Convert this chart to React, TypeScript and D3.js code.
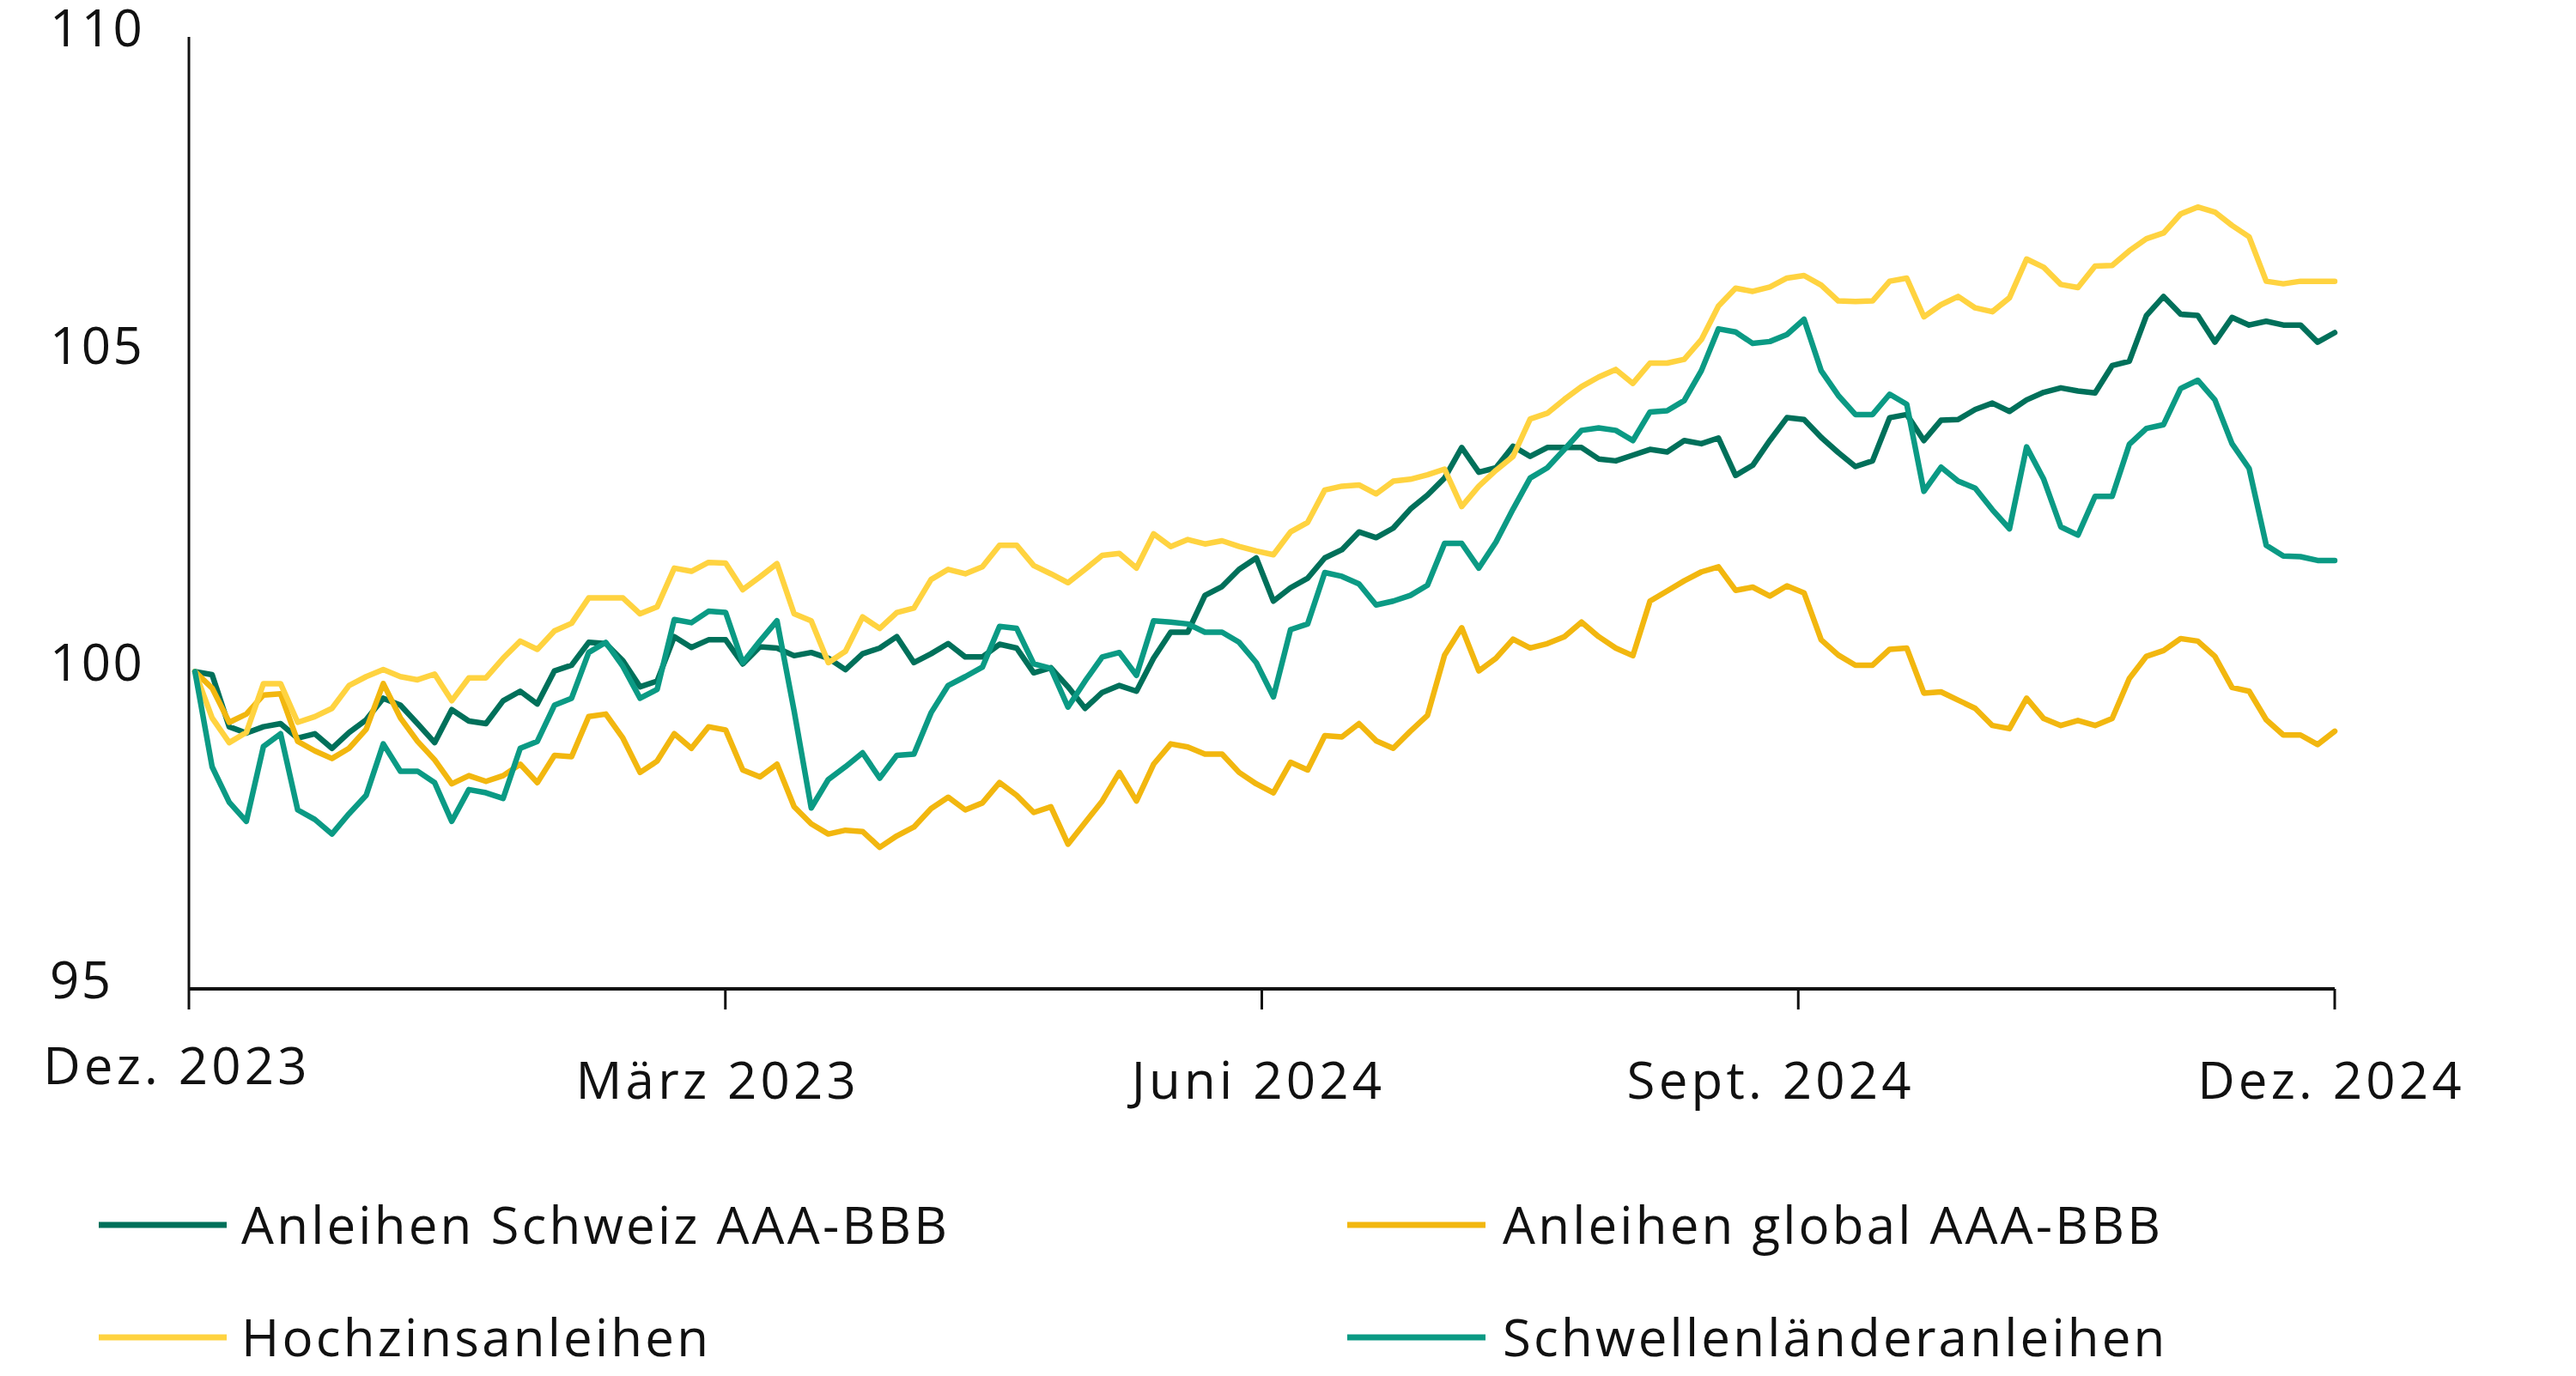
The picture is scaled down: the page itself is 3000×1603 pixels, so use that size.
import React from 'react';
import * as d3 from 'd3';

// ---------- data ----------
const seriesNames = [
  'Anleihen Schweiz AAA-BBB',
  'Anleihen global AAA-BBB',
  'Hochzinsanleihen',
  'Schwellenländeranleihen',
];
const seriesColors = ['#00705a', '#f2b70f', '#ffd340', '#0b9a84'];

const schweiz = [
  100.0, 99.95, 99.13, 99.03, 99.13, 99.18, 98.95, 99.02, 98.79, 99.04, 99.24, 99.58, 99.47, 99.18, 98.88, 99.4, 99.22, 99.18, 99.54, 99.69, 99.49, 100.01, 100.1, 100.46, 100.44, 100.17, 99.76, 99.85, 100.55,
  100.38, 100.5, 100.5, 100.12, 100.39, 100.37, 100.25, 100.3, 100.21, 100.03, 100.28, 100.37, 100.55, 100.14, 100.28, 100.44, 100.23, 100.23, 100.43, 100.37, 99.98, 100.06, 99.76, 99.42, 99.67, 99.78, 99.69, 100.21,
  100.62, 100.62, 101.2, 101.34, 101.61, 101.79, 101.11, 101.32, 101.47, 101.79, 101.92,
  102.2, 102.11, 102.26, 102.56, 102.78, 103.05, 103.53, 103.14, 103.21, 103.55, 103.39,
  103.53, 103.53, 103.53, 103.35, 103.32, 103.41, 103.5, 103.46, 103.64, 103.59, 103.68,
  103.09, 103.25, 103.64, 104.0, 103.97, 103.69, 103.45, 103.23, 103.32, 104.0, 104.05,
  103.64, 103.96, 103.97, 104.13, 104.23, 104.1, 104.28, 104.4, 104.47, 104.42, 104.39, 104.82,
  104.89, 105.61, 105.91, 105.63, 105.61, 105.19, 105.58, 105.46, 105.52, 105.46, 105.46, 105.19, 105.34,
];

const globalBonds = [
  100.0, 99.74, 99.2, 99.33, 99.63, 99.65, 98.9, 98.75, 98.63, 98.79, 99.09, 99.81, 99.27, 98.9, 98.61, 98.23, 98.36, 98.27, 98.36, 98.54, 98.25, 98.68, 98.66, 99.29, 99.33, 98.95, 98.41, 98.59, 99.02,
  98.79, 99.13, 99.08, 98.45, 98.34, 98.54, 97.87, 97.6, 97.44, 97.5, 97.48, 97.23, 97.41, 97.55, 97.84, 98.02, 97.82, 97.93, 98.25, 98.05, 97.78, 97.87, 97.28, 97.62, 97.96, 98.41, 97.96, 98.54,
  98.86, 98.81, 98.7, 98.7, 98.41, 98.23, 98.09, 98.57, 98.45, 98.99, 98.97,
  99.18, 98.91, 98.79, 99.06, 99.31, 100.26, 100.69, 100.01, 100.21, 100.51, 100.37,
  100.44, 100.55, 100.78, 100.55, 100.37, 100.25, 101.11, 101.27, 101.43, 101.57, 101.65,
  101.28, 101.33, 101.19, 101.35, 101.24, 100.5, 100.26, 100.1, 100.1, 100.35, 100.37,
  99.66, 99.68, 99.55, 99.42, 99.15, 99.1, 99.58, 99.26, 99.15, 99.23, 99.15, 99.26,
  99.89, 100.24, 100.33, 100.52, 100.48, 100.24, 99.75, 99.69, 99.24, 99.0, 99.0, 98.85, 99.06,
];

const hochzins = [
  100.0, 99.27, 98.88, 99.04, 99.81, 99.81, 99.2, 99.29, 99.42, 99.78, 99.92, 100.03, 99.92, 99.87, 99.96, 99.54, 99.9, 99.9, 100.21, 100.48, 100.35, 100.64, 100.76, 101.16, 101.16, 101.16, 100.91, 101.02, 101.63,
  101.58, 101.72, 101.71, 101.29, 101.49, 101.7, 100.91, 100.8, 100.14, 100.32, 100.86, 100.68, 100.93, 101.0, 101.45, 101.61, 101.54, 101.65, 101.99, 101.99, 101.67, 101.54, 101.4, 101.61, 101.83, 101.86, 101.63, 102.17,
  101.97, 102.08, 102.01, 102.06, 101.97, 101.9, 101.84, 102.2, 102.35, 102.86, 102.92,
  102.94, 102.8, 103.0, 103.03, 103.1, 103.19, 102.6, 102.92, 103.17, 103.39, 103.98,
  104.07, 104.29, 104.49, 104.64, 104.76, 104.54, 104.86, 104.86, 104.92, 105.23, 105.76,
  106.04, 105.99, 106.06, 106.2, 106.24, 106.09, 105.84, 105.83, 105.84, 106.15, 106.2,
  105.59, 105.78, 105.91, 105.73, 105.67, 105.89, 106.5, 106.37, 106.1, 106.05, 106.39, 106.4,
  106.63, 106.82, 106.91, 107.21, 107.32, 107.24, 107.03, 106.85, 106.15, 106.11, 106.15, 106.15, 106.15,
];

const schwellen = [
  100.0, 98.5, 97.94, 97.64, 98.82, 99.02, 97.82, 97.67, 97.44, 97.76, 98.05, 98.86, 98.43, 98.43, 98.25, 97.64, 98.14, 98.09, 98.0, 98.79, 98.9, 99.47, 99.58, 100.3, 100.46, 100.08, 99.58, 99.72, 100.82,
  100.77, 100.95, 100.93, 100.14, 100.48, 100.8, 99.38, 97.85, 98.3, 98.5, 98.72, 98.32, 98.68, 98.7, 99.35, 99.78, 99.92, 100.07, 100.71, 100.68, 100.12, 100.05, 99.44, 99.85, 100.23, 100.3, 99.94, 100.8,
  100.78, 100.75, 100.62, 100.62, 100.46, 100.14, 99.6, 100.66, 100.75, 101.56, 101.5,
  101.38, 101.05, 101.11, 101.2, 101.36, 102.02, 102.02, 101.63, 102.04, 102.56, 103.05,
  103.21, 103.5, 103.8, 103.84, 103.8, 103.64, 104.09, 104.11, 104.27, 104.74, 105.4,
  105.35, 105.17, 105.2, 105.31, 105.55, 104.74, 104.35, 104.05, 104.05, 104.37, 104.21,
  102.84, 103.22, 103.0, 102.89, 102.55, 102.25, 103.54, 103.03, 102.28, 102.15, 102.76, 102.76,
  103.58, 103.83, 103.89, 104.46, 104.59, 104.28, 103.59, 103.2, 101.99, 101.82, 101.81, 101.75, 101.75,
];

const seriesValues = [schweiz, globalBonds, hochzins, schwellen];

const yTicks = [95, 100, 105, 110];
const xTickMonths = [0, 3, 6, 9, 12];
const xTickLabels = ['Dez. 2023', 'März 2023', 'Juni 2024', 'Sept. 2024', 'Dez. 2024'];
const dataStartMonth = 0.034; // first observation (months after Dec. 2023)
const dataEndMonth = 12;

// ---------- layout ----------
const W = 3000;
const H = 1603;
const FONT = "'Open Sans', 'Noto Sans', sans-serif";
const FS = 60;
const xTickLabelDx = [-14, -9, -4, -32, -4];
const xTickLabelBaseline = [1263, 1280, 1280, 1280, 1280];
const legendPos = [
  { x1: 115, x2: 264, tx: 281, y: 1427 },
  { x1: 1569, x2: 1730, tx: 1750, y: 1427 },
  { x1: 115, x2: 264, tx: 281, y: 1558 },
  { x1: 1569, x2: 1730, tx: 1750, y: 1558 },
];

export default function App() {
  const x = d3.scaleLinear().domain([0, 12]).range([220, 2719]);
  const y = d3.scaleLinear().domain([95, 110]).range([1152, 43]);

  const makeLine = (vals: number[]) => {
    const n = vals.length;
    const t = (i: number) => dataStartMonth + (i * (dataEndMonth - dataStartMonth)) / (n - 1);
    return d3
      .line<number>()
      .x((_, i) => x(t(i)))
      .y((d) => y(d))(vals) as string;
  };

  return (
    <svg
      width={W}
      height={H}
      viewBox={`0 0 ${W} ${H}`}
      style={{ position: 'absolute', left: 0, top: 0, background: '#fff' }}
      fontFamily={FONT}
    >
      <rect x={0} y={0} width={W} height={H} fill="#fff" />

      {/* y axis labels */}
      {yTicks.map((v) => (
        <text
          key={v}
          x={58}
          y={y(v) + 11}
          fontSize={FS}
          letterSpacing={2.5}
          fill="#111"
          textAnchor="start"
        >
          {v}
        </text>
      ))}

      {/* series */}
      {seriesValues.map((vals, i) => (
        <path
          key={seriesNames[i]}
          d={makeLine(vals)}
          fill="none"
          stroke={seriesColors[i]}
          strokeWidth={6.5}
          strokeLinejoin="round"
          strokeLinecap="round"
        />
      ))}

      {/* axes */}
      <line x1={x(0)} x2={x(0)} y1={y(110)} y2={y(95)} stroke="#111" strokeWidth={3} />
      <line x1={x(0)} x2={x(12)} y1={y(95)} y2={y(95)} stroke="#111" strokeWidth={4} />
      {xTickMonths.map((m, i) => (
        <g key={m}>
          <line x1={x(m)} x2={x(m)} y1={y(95)} y2={y(95) + 24} stroke="#111" strokeWidth={3} />
          <text
            x={x(m) + xTickLabelDx[i]}
            y={xTickLabelBaseline[i]}
            fontSize={FS}
            letterSpacing={4.2}
            textAnchor="middle"
            fill="#111"
          >
            {xTickLabels[i]}
          </text>
        </g>
      ))}

      {/* legend */}
      {seriesNames.map((name, i) => (
        <g key={name}>
          <line
            x1={legendPos[i].x1}
            x2={legendPos[i].x2}
            y1={legendPos[i].y}
            y2={legendPos[i].y}
            stroke={seriesColors[i]}
            strokeWidth={7}
          />
          <text
            x={legendPos[i].tx}
            y={legendPos[i].y + 22}
            fontSize={FS}
            letterSpacing={3.2}
            fill="#111"
          >
            {name}
          </text>
        </g>
      ))}
    </svg>
  );
}
